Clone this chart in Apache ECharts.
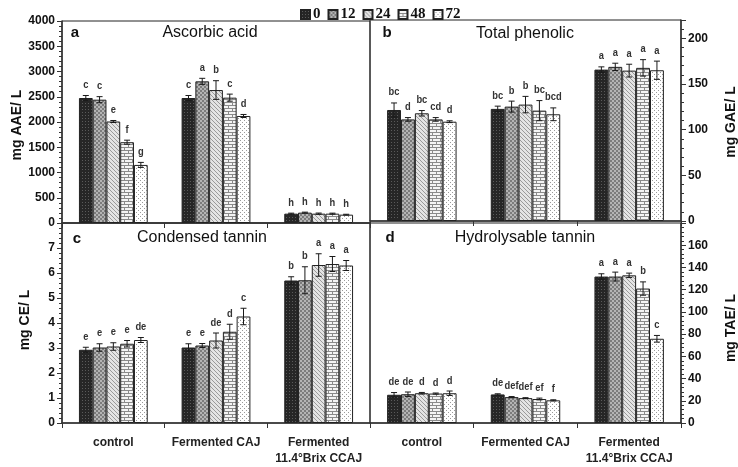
<!DOCTYPE html>
<html>
<head>
<meta charset="utf-8">
<script src="https://cdn.jsdelivr.net/npm/echarts@6/dist/echarts.min.js"></script>
<style>
  html, body { margin: 0; padding: 0; background: #fff; }
  #main { width: 738px; height: 467px; }
</style>
</head>
<body>
<div id="main"></div>
<script>
// categories and fermentation hours
const groups = ['control', 'Fermented CAJ', 'Fermented\n11.4°Brix CCAJ'];
const hours = ['0', '12', '24', '48', '72'];

// a: ascorbic acid (mg AAE/L), rows = groups, cols = hours
const ascorbicMean = [[2475, 2442, 2010, 1600, 1150], [2475, 2805, 2633, 2482, 2119], [185, 205, 185, 185, 165]];
const ascorbicErr = [[50, 60, 20, 40, 50], [50, 60, 185, 70, 30], [10, 10, 12, 10, 8]];
const ascorbicLetters = [['c', 'c', 'e', 'f', 'g'], ['c', 'a', 'b', 'c', 'd'], ['h', 'h', 'h', 'h', 'h']];

// b: total phenolic (mg GAE/L)
const phenolicMean = [[121.5, 111.2, 117.9, 111.2, 108.7], [122.7, 125.2, 127.4, 120.8, 116.8], [165.7, 168.7, 164.6, 167.6, 165.0]];
const phenolicErr = [[7.7, 2, 3, 2, 1], [3, 6, 9, 11, 7], [3, 4, 7, 9, 10]];
const phenolicLetters = [['bc', 'd', 'bc', 'cd', 'd'], ['bc', 'b', 'b', 'bc', 'bcd'], ['a', 'a', 'a', 'a', 'a']];

// c: condensed tannin (mg CE/L)
const condensedMean = [[2.93, 3.02, 3.06, 3.17, 3.32], [3.02, 3.10, 3.30, 3.65, 4.26], [5.70, 5.71, 6.32, 6.36, 6.30]];
const condensedErr = [[0.1, 0.15, 0.15, 0.13, 0.1], [0.15, 0.08, 0.3, 0.3, 0.33], [0.15, 0.54, 0.45, 0.3, 0.2]];
const condensedLetters = [['e', 'e', 'e', 'e', 'de'], ['e', 'e', 'de', 'd', 'c'], ['b', 'b', 'a', 'a', 'a']];

// d: hydrolysable tannin (mg TAE/L)
const hydroMean = [[25.4, 25.9, 26.8, 26.5, 26.8], [25.7, 23.3, 22.4, 21.6, 20.4], [131.8, 131.8, 132.9, 121.0, 75.8]];
const hydroErr = [[2, 2, 0.7, 0.5, 2], [0.6, 0.5, 0.4, 0.8, 0.5], [2.5, 4, 2, 6, 3]];
const hydroLetters = [['de', 'de', 'd', 'd', 'd'], ['de', 'def', 'def', 'ef', 'f'], ['a', 'a', 'a', 'b', 'c']];

const chart = echarts.init(document.getElementById('main'), null, { renderer: 'canvas' });

// small fill patterns imitating the printed hatches
function makePattern(w, h, bg, fg, pts) {
  const c = document.createElement('canvas');
  c.width = w; c.height = h;
  const ctx = c.getContext('2d');
  ctx.fillStyle = bg;
  ctx.fillRect(0, 0, w, h);
  ctx.fillStyle = fg;
  pts.forEach(p => ctx.fillRect(p[0], p[1], p[2] || 1, p[3] || 1));
  return { image: c, repeat: 'repeat' };
}
const patterns = [
  makePattern(3, 3, '#262626', '#5a5a5a', [[1, 1]]),
  makePattern(4, 4, '#7c7c7c', '#b4b4b4', [[0, 0, 2, 2], [2, 2, 2, 2]]),
  makePattern(4, 4, '#e4e4e4', '#9a9a9a', [[0, 0], [1, 1], [2, 2], [3, 3]]),
  makePattern(8, 6, '#f4f4f4', '#8a8a8a', [[0, 0, 8, 1], [0, 3, 8, 1], [0, 0, 1, 3], [4, 3, 1, 3]]),
  makePattern(4, 4, '#ffffff', '#9a9a9a', [[0, 0], [2, 2]])
];

const catGap = 0.33;
const fontMain = 'Liberation Sans';

const panels = [
  { mean: ascorbicMean, err: ascorbicErr, letters: ascorbicLetters },
  { mean: phenolicMean, err: phenolicErr, letters: phenolicLetters },
  { mean: condensedMean, err: condensedErr, letters: condensedLetters },
  { mean: hydroMean, err: hydroErr, letters: hydroLetters }
];

const grids = [
  { left: 62, top: 21, width: 308, height: 202 },
  { left: 370, top: 20, width: 311, height: 201 },
  { left: 62, top: 223, width: 308, height: 205 },
  { left: 370, top: 223, width: 311, height: 206 }
].map(g => Object.assign({ show: true, borderColor: '#222', borderWidth: 1, containLabel: false }, g));

const xAxes = grids.map((g, i) => ({
  type: 'category',
  gridIndex: i,
  data: groups,
  axisLine: { lineStyle: { color: '#333', width: 1.5 } },
  axisTick: { show: true, length: 5, lineStyle: { color: '#333' } },
  axisLabel: {
    show: i >= 2,
    interval: 0,
    margin: 12,
    color: '#222',
    fontFamily: fontMain,
    fontWeight: 'bold',
    fontSize: 12,
    lineHeight: 16
  }
}));

function yAxis(i, max, interval, pos) {
  return {
    type: 'value',
    gridIndex: i,
    position: pos,
    min: 0,
    max: max,
    interval: interval,
    splitLine: { show: false },
    axisLine: { show: true, lineStyle: { color: '#333', width: 1.5 } },
    axisTick: { show: true, length: 5, lineStyle: { color: '#333' } },
    minorTick: { show: true, splitNumber: 5, length: 3, lineStyle: { color: '#333' } },
    axisLabel: {
      showMaxLabel: i === 0,
      margin: 7,
      color: '#111',
      fontFamily: fontMain,
      fontWeight: 'bold',
      fontSize: 12,
      formatter: v => String(v)
    }
  };
}
const yAxes = [
  yAxis(0, 4000, 500, 'left'),
  yAxis(1, 220, 50, 'right'),
  yAxis(2, 8, 1, 'left'),
  yAxis(3, 180, 20, 'right')
];

const series = [];
panels.forEach((p, pi) => {
  hours.forEach((h, hi) => {
    series.push({
      name: h,
      type: 'bar',
      xAxisIndex: pi,
      yAxisIndex: pi,
      barGap: '0%',
      barCategoryGap: (catGap * 100) + '%',
      itemStyle: { color: patterns[hi], borderColor: '#222', borderWidth: 1 },
      data: groups.map((g, gi) => p.mean[gi][hi])
    });
  });
  // error bars + significance letters
  const errData = [];
  groups.forEach((g, gi) => {
    hours.forEach((h, hi) => {
      errData.push([gi, hi, p.mean[gi][hi], p.err[gi][hi]]);
    });
  });
  series.push({
    type: 'custom',
    xAxisIndex: pi,
    yAxisIndex: pi,
    z: 10,
    silent: true,
    data: errData,
    renderItem: function (params, api) {
      const gi = api.value(0), hi = api.value(1), v = api.value(2), e = api.value(3);
      const band = api.size([1, 0])[0];
      const bw = band * (1 - catGap) / hours.length;
      const cx = api.coord([gi, v])[0] + (hi - 2) * bw;
      const yt = api.coord([gi, v + e])[1];
      const yb = api.coord([gi, v - e])[1];
      const st = { stroke: '#1a1a1a', lineWidth: 1 };
      return {
        type: 'group',
        children: [
          { type: 'line', shape: { x1: cx, y1: yt, x2: cx, y2: yb }, style: st },
          { type: 'line', shape: { x1: cx - 3, y1: yt, x2: cx + 3, y2: yt }, style: st },
          { type: 'line', shape: { x1: cx - 3, y1: yb, x2: cx + 3, y2: yb }, style: st },
          {
            type: 'text',
            x: cx,
            y: yt - 5,
            scaleX: 0.85,
            style: {
              text: p.letters[gi][hi],
              fill: '#333',
              font: 'bold 11px ' + fontMain,
              align: 'center',
              verticalAlign: 'bottom'
            }
          }
        ]
      };
    }
  });
});

function txt(x, y, s, font, rot) {
  return {
    type: 'text',
    x: x,
    y: y,
    rotation: rot || 0,
    style: { text: s, font: font, fill: '#111', align: 'center', verticalAlign: 'middle' }
  };
}
const titleFont = '16px ' + fontMain;
const tagFont = 'bold 15px ' + fontMain;
const nameFont = 'bold 14px ' + fontMain;

const option = {
  animation: false,
  backgroundColor: '#fff',
  legend: {
    left: 295,
    top: 2,
    itemWidth: 9,
    itemHeight: 9,
    itemGap: 7,
    icon: 'rect',
    data: hours,
    textStyle: { fontFamily: 'Liberation Serif', fontWeight: 'bold', fontSize: 15, color: '#111', padding: [0, 0, 0, -2] }
  },
  grid: grids,
  xAxis: xAxes,
  yAxis: yAxes,
  series: series,
  graphic: [
    txt(75, 33, 'a', tagFont),
    txt(210, 33, 'Ascorbic acid', titleFont),
    txt(387, 33, 'b', tagFont),
    txt(525, 34, 'Total phenolic', titleFont),
    txt(77, 239, 'c', tagFont),
    txt(202, 238, 'Condensed tannin', titleFont),
    txt(390, 238, 'd', tagFont),
    txt(525, 238, 'Hydrolysable tannin', titleFont),
    txt(17, 125, 'mg AAE/ L', nameFont, Math.PI / 2),
    txt(731, 122, 'mg GAE/ L', nameFont, Math.PI / 2),
    txt(25, 320, 'mg CE/ L', nameFont, Math.PI / 2),
    txt(731, 328, 'mg TAE/ L', nameFont, Math.PI / 2)
  ]
};
chart.setOption(option);
</script>
</body>
</html>
